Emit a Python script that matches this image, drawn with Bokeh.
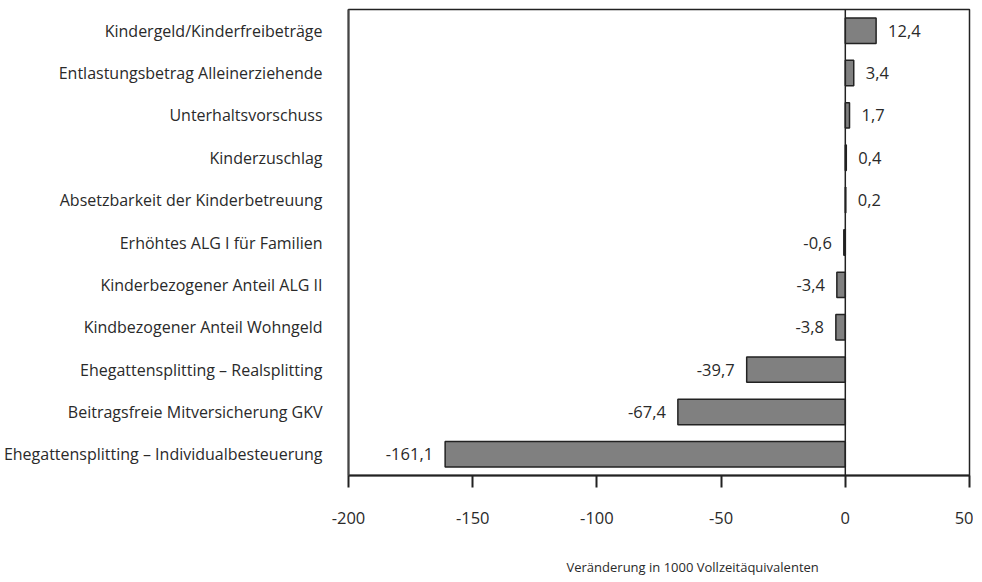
from bokeh.plotting import figure
from bokeh.models import ColumnDataSource, FactorRange, Range1d, FixedTicker, Span, Title
from bokeh.embed import file_html
from bokeh.resources import INLINE
from bokeh.core.properties import value

categories = [
    "Kindergeld/Kinderfreibeträge",
    "Entlastungsbetrag Alleinerziehende",
    "Unterhaltsvorschuss",
    "Kinderzuschlag",
    "Absetzbarkeit der Kinderbetreuung",
    "Erhöhtes ALG I für Familien",
    "Kinderbezogener Anteil ALG II",
    "Kindbezogener Anteil Wohngeld",
    "Ehegattensplitting – Realsplitting",
    "Beitragsfreie Mitversicherung GKV",
    "Ehegattensplitting – Individualbesteuerung",
]
values = [12.4, 3.4, 1.7, 0.4, 0.2, -0.6, -3.4, -3.8, -39.7, -67.4, -161.1]
x_ticks = [-200, -150, -100, -50, 0, 50]
x_tick_labels = ["-200", "-150", "-100", "-50", "0", "50"]
x_title = "Veränderung in 1000 Vollzeitäquivalenten"

FONT = "Open Sans"
TXT = "#2a2a2a"
labels = [f"{v:.1f}".replace(".", ",") for v in values]

src = ColumnDataSource(dict(cat=categories, val=values, lab=labels))
pos = ColumnDataSource(dict(cat=[c for c, v in zip(categories, values) if v >= 0],
                            val=[v for v in values if v >= 0],
                            lab=[l for l, v in zip(labels, values) if v >= 0]))
neg = ColumnDataSource(dict(cat=[c for c, v in zip(categories, values) if v < 0],
                            val=[v for v in values if v < 0],
                            lab=[l for l, v in zip(labels, values) if v < 0]))

p = figure(frame_width=621, frame_height=466, output_backend="svg", toolbar_location=None,
           y_range=FactorRange(factors=list(reversed(categories)), range_padding=0),
           x_range=Range1d(-200, 50),
           min_border_left=341, min_border_top=9, min_border_right=4, min_border_bottom=0)
p.xgrid.visible = False
p.ygrid.visible = False
p.outline_line_color = "#222222"
p.outline_line_width = 1.5
p.background_fill_color = "white"
p.border_fill_color = "white"

p.hbar(y="cat", right="val", left=0, height=0.6, source=src,
       fill_color="#808080", line_color="#222222", line_width=1.5)

p.add_layout(Span(location=0, dimension="height", line_color="#222222", line_width=1.5))

p.text(x="val", y="cat", text="lab", source=pos, x_offset=12, text_align="left",
       text_baseline="middle", text_font=value(FONT), text_font_size="16.5px", text_color=TXT)
p.text(x="val", y="cat", text="lab", source=neg, x_offset=-12, text_align="right",
       text_baseline="middle", text_font=value(FONT), text_font_size="16.5px", text_color=TXT)

xa = p.xaxis[0]
xa.ticker = FixedTicker(ticks=x_ticks)
xa.major_label_overrides = {t: l for t, l in zip(x_ticks, x_tick_labels)}
xa.minor_tick_line_color = None
xa.major_tick_in = 0
xa.major_tick_out = 12
xa.major_tick_line_width = 2
xa.major_tick_line_color = "#222222"
xa.axis_line_color = "#222222"
xa.axis_line_width = 2
xa.major_label_standoff = 24
xa.major_label_text_font = FONT
xa.major_label_text_font_size = "16.5px"
xa.major_label_text_color = TXT

p.add_layout(Title(text=x_title, align="left", offset=218, standoff=58,
                   text_font=FONT, text_font_size="13px", text_font_style="normal",
                   text_color=TXT), "below")

ya = p.yaxis[0]
ya.axis_line_color = "#444444"
ya.axis_line_width = 2
ya.major_tick_line_color = None
ya.minor_tick_line_color = None
ya.major_label_standoff = 20
ya.major_label_text_font = FONT
ya.major_label_text_font_size = "16px"
ya.major_label_text_color = TXT

open("out.html", "w").write(file_html(p, INLINE))
